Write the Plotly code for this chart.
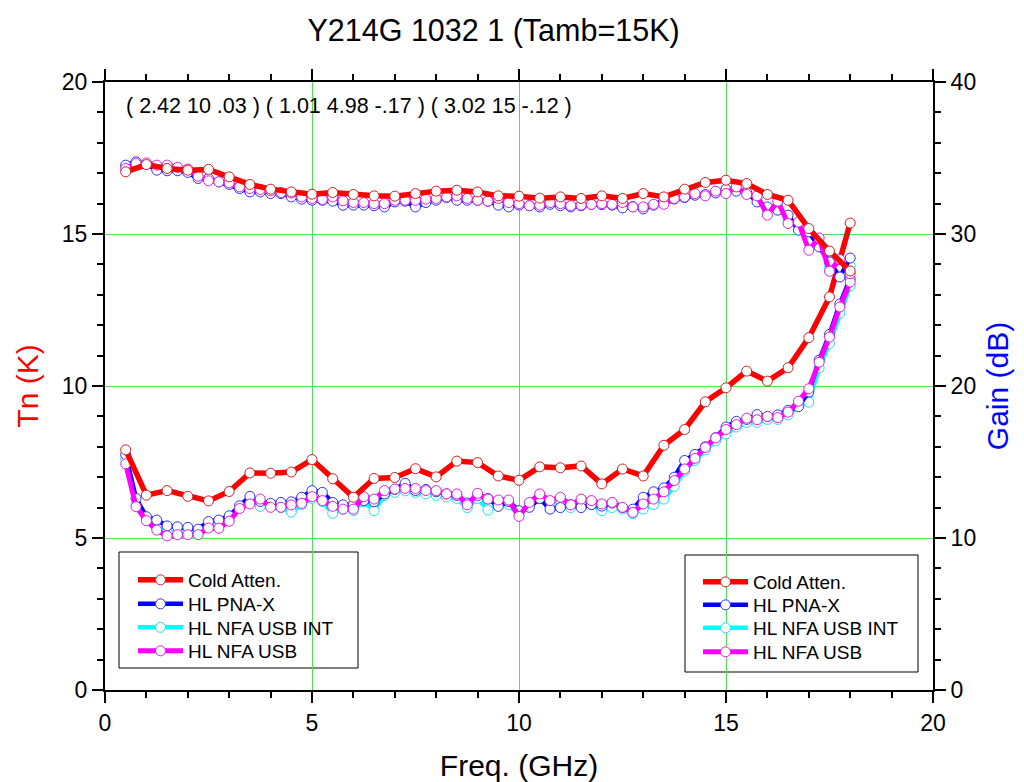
import plotly.graph_objects as go

# ---------------- data ----------------
freq_half = [0.5, 1.0, 1.5, 2.0, 2.5, 3.0, 3.5, 4.0, 4.5, 5.0, 5.5, 6.0,
             6.5, 7.0, 7.5, 8.0, 8.5, 9.0, 9.5, 10.0, 10.5, 11.0, 11.5, 12.0,
             12.5, 13.0, 13.5, 14.0, 14.5, 15.0, 15.5, 16.0, 16.5, 17.0, 17.5, 18.0]

freq_quarter = [0.5, 0.75,
                1.0, 1.25, 1.5, 1.75, 2.0, 2.25, 2.5, 2.75,
                3.0, 3.25, 3.5, 3.75, 4.0, 4.25, 4.5, 4.75,
                5.0, 5.25, 5.5, 5.75, 6.0, 6.25, 6.5, 6.75,
                7.0, 7.25, 7.5, 7.75, 8.0, 8.25, 8.5, 8.75,
                9.0, 9.25, 9.5, 9.75, 10.0, 10.25, 10.5, 10.75,
                11.0, 11.25, 11.5, 11.75, 12.0, 12.25, 12.5, 12.75,
                13.0, 13.25, 13.5, 13.75, 14.0, 14.25, 14.5, 14.75,
                15.0, 15.25, 15.5, 15.75, 16.0, 16.25, 16.5, 16.75,
                17.0, 17.25, 17.5, 17.75, 18.0]

# Noise temperature (K)
tn_cold = [7.90, 6.41, 6.56, 6.37, 6.22, 6.53, 7.14, 7.13, 7.17, 7.58, 6.95, 6.34,
           6.96, 6.99, 7.28, 7.01, 7.53, 7.48, 7.04, 6.90, 7.34, 7.31, 7.37, 6.78,
           7.27, 7.04, 8.05, 8.57, 9.48, 9.94, 10.49, 10.16, 10.60, 11.59, 12.93, 15.36]

tn_pnax = [7.74, 6.30,
           5.70, 5.59, 5.40, 5.37, 5.35, 5.29, 5.54, 5.59,
           5.73, 6.06, 6.37, 6.20, 6.14, 6.17, 6.19, 6.34,
           6.56, 6.50, 6.17, 6.09, 6.09, 6.23, 6.19, 6.45,
           6.60, 6.80, 6.56, 6.60, 6.52, 6.45, 6.40, 6.15,
           6.40, 6.30, 6.04, 6.20, 5.90, 6.01, 6.30, 5.95,
           6.00, 6.10, 6.00, 6.10, 6.05, 6.15, 6.00, 5.95,
           6.34, 6.52, 6.65, 7.00, 7.55, 7.75, 8.00, 8.30,
           8.65, 8.84, 8.90, 9.06, 9.00, 9.05, 9.20, 9.32,
           9.80, 10.85, 11.70, 12.70, 13.53]

tn_nfa_int = [7.60, 6.10,
              5.60, 5.35, 5.20, 5.15, 5.20, 5.20, 5.40, 5.45,
              5.60, 6.00, 6.20, 6.04, 6.05, 6.00, 5.85, 6.10,
              6.30, 6.20, 5.81, 5.95, 5.90, 6.20, 5.90, 6.40,
              6.50, 6.55, 6.50, 6.45, 6.40, 6.35, 6.30, 6.00,
              6.30, 5.92, 6.10, 6.10, 5.75, 6.05, 6.30, 6.05,
              6.25, 6.00, 6.20, 6.10, 5.90, 6.00, 5.95, 5.80,
              5.95, 6.10, 6.28, 6.70, 7.20, 7.55, 7.90, 8.20,
              8.42, 8.65, 8.80, 8.80, 8.90, 8.90, 9.05, 9.35,
              9.47, 10.60, 11.40, 12.40, 13.30]

tn_nfa = [7.44, 6.03,
          5.57, 5.26, 5.07, 5.11, 5.11, 5.11, 5.33, 5.32,
          5.55, 5.97, 6.12, 6.28, 6.01, 6.01, 6.09, 6.14,
          6.36, 6.23, 6.04, 5.95, 5.95, 6.36, 6.28, 6.56,
          6.61, 6.63, 6.63, 6.56, 6.56, 6.45, 6.45, 6.09,
          6.47, 6.28, 6.25, 6.25, 5.71, 6.17, 6.45, 6.23,
          6.34, 6.09, 6.28, 6.23, 6.12, 6.17, 6.01, 5.84,
          6.12, 6.28, 6.52, 6.89, 7.27, 7.62, 7.98, 8.29,
          8.57, 8.73, 8.94, 8.89, 9.00, 8.96, 9.14, 9.50,
          9.91, 10.78, 11.61, 12.60, 13.42]

# Gain (dB)
gain_cold = [34.09, 34.57, 34.31, 34.20, 34.25, 33.76, 33.26, 32.95, 32.77, 32.62, 32.73, 32.60,
             32.51, 32.49, 32.66, 32.82, 32.88, 32.77, 32.51, 32.49, 32.36, 32.44, 32.34, 32.51,
             32.34, 32.66, 32.44, 32.95, 33.39, 33.54, 33.32, 32.60, 32.22, 30.36, 28.88, 27.57]

gain_pnax = [34.53, 34.75,
             34.60, 34.20, 34.16, 34.16, 34.05, 33.65, 33.65, 33.43,
             33.26, 32.99, 32.77, 32.77, 32.66, 32.66, 32.44, 32.29,
             32.22, 32.22, 32.16, 31.89, 31.90, 31.90, 31.86, 31.78,
             32.11, 32.16, 31.78, 32.07, 32.22, 32.40, 32.22, 32.22,
             32.22, 32.16, 31.90, 31.78, 31.90, 31.86, 31.78, 31.95,
             31.86, 31.78, 31.86, 31.95, 31.93, 31.90, 31.72, 31.80,
             31.65, 31.90, 32.20, 32.30, 32.40, 32.55, 32.60, 32.70,
             32.95, 32.82, 32.75, 32.11, 31.78, 31.57, 31.24, 30.25,
             30.14, 29.15, 28.16, 27.17, 28.42]

gain_nfa_int = [34.40, 34.70,
                34.62, 34.35, 34.30, 34.25, 34.15, 33.72, 33.58, 33.43,
                33.30, 33.05, 32.88, 32.85, 32.75, 32.70, 32.55, 32.36,
                32.28, 32.25, 32.30, 32.05, 32.00, 31.98, 31.93, 31.90,
                32.16, 32.19, 32.00, 32.18, 32.28, 32.42, 32.36, 32.28,
                32.22, 32.16, 32.12, 31.92, 31.95, 31.86, 31.84, 32.01,
                31.93, 31.82, 31.88, 31.95, 31.96, 31.92, 31.90, 31.79,
                31.72, 31.92, 32.08, 32.32, 32.42, 32.60, 32.55, 32.76,
                32.80, 32.96, 32.68, 32.31, 31.51, 31.86, 30.96, 30.52,
                29.54, 29.45, 27.85, 27.75, 27.90]

gain_nfa = [34.31, 34.64,
            34.68, 34.53, 34.53, 34.38, 34.27, 33.80, 33.50, 33.43,
            33.37, 33.10, 32.99, 32.93, 32.84, 32.73, 32.70, 32.44,
            32.34, 32.27, 32.44, 32.18, 32.07, 32.07, 32.00, 32.00,
            32.22, 32.22, 32.22, 32.29, 32.34, 32.44, 32.51, 32.34,
            32.22, 32.16, 32.34, 32.07, 32.00, 31.86, 31.90, 32.07,
            32.00, 31.86, 31.90, 31.95, 32.00, 31.95, 32.07, 31.78,
            31.78, 31.95, 31.95, 32.34, 32.44, 32.66, 32.51, 32.82,
            32.66, 33.10, 32.60, 32.51, 31.24, 32.16, 30.69, 30.79,
            28.93, 29.74, 27.55, 28.32, 27.39]

series_names = ["Cold Atten.", "HL PNA-X", "HL NFA USB INT", "HL NFA USB"]
fit_text = "( 2.42 10 .03 ) ( 1.01 4.98 -.17 ) ( 3.02 15 -.12 )"
title_text = "Y214G 1032 1 (Tamb=15K)"

# ---------------- layout helpers ----------------
W, H = 1024, 782
PL, PR, PT, PB = 105, 933, 82, 690   # plot area in pixels


def px_x(p):
    return (p - PL) / (PR - PL)


def px_y(p):
    return (PB - p) / (PB - PT)


FONT = "Liberation Sans, Arial, sans-serif"
GRID = "#50e050"

styles = {
    "Cold Atten.": dict(color="#ff0000", mline="#d02020", width=5.5),
    "HL PNA-X": dict(color="#0000ff", mline="#3030ff", width=4.5),
    "HL NFA USB INT": dict(color="#00ffff", mline="#20e0f0", width=4.5),
    "HL NFA USB": dict(color="#ff00ff", mline="#e020e0", width=5),
}

tn_data = {
    "Cold Atten.": (freq_half, tn_cold),
    "HL PNA-X": (freq_quarter, tn_pnax),
    "HL NFA USB INT": (freq_quarter, tn_nfa_int),
    "HL NFA USB": (freq_quarter, tn_nfa),
}
gain_data = {
    "Cold Atten.": (freq_half, gain_cold),
    "HL PNA-X": (freq_quarter, gain_pnax),
    "HL NFA USB INT": (freq_quarter, gain_nfa_int),
    "HL NFA USB": (freq_quarter, gain_nfa),
}

draw_order = ["HL NFA USB INT", "HL PNA-X", "HL NFA USB", "Cold Atten."]

# legend entry positions (text left x, row centre y) for each block
legend_blocks = {
    "y": dict(text_x=188, rows=[580, 604, 627.5, 651]),
    "y2": dict(text_x=753, rows=[582, 605, 628, 652]),
}

fig = go.Figure()
legends = {}
leg_idx = 1
for axis, data in (("y", tn_data), ("y2", gain_data)):
    blk = legend_blocks[axis]
    for name in draw_order:
        st = styles[name]
        xs, ys = data[name]
        row = series_names.index(name)
        key = "legend" if leg_idx == 1 else f"legend{leg_idx}"
        legends[key] = dict(
            x=px_x(blk["text_x"] - 55), y=px_y(blk["rows"][row]),
            xanchor="left", yanchor="middle",
            bgcolor="rgba(0,0,0,0)", borderwidth=0, itemwidth=45,
            font=dict(family=FONT, size=19, color="black"),
        )
        fig.add_trace(go.Scatter(
            x=xs, y=ys, name=name, mode="lines+markers", yaxis=axis,
            legend=key,
            line=dict(color=st["color"], width=st["width"]),
            marker=dict(symbol="circle", size=10, color="white",
                        line=dict(color=st["mline"], width=1)),
            hoverinfo="skip",
        ))
        leg_idx += 1

axis_common = dict(
    showline=True, linecolor="black", linewidth=2,
    ticks="outside", tickcolor="black", tickwidth=2, ticklen=11,
    tickfont=dict(family=FONT, size=23, color="black"),
    zeroline=False,
)

fig.update_layout(
    template="none",
    width=W, height=H,
    margin=dict(l=PL, r=W - PR, t=PT, b=H - PB, pad=0),
    paper_bgcolor="white", plot_bgcolor="white",
    font=dict(family=FONT, color="black"),
    title=dict(text=title_text, x=0.482, xanchor="center", y=1 - 30 / H, yanchor="middle",
               font=dict(family=FONT, size=30.5, color="black")),
    xaxis=dict(range=[0, 20], tick0=0, dtick=5, mirror="ticks",
               showgrid=True, gridcolor=GRID, gridwidth=1,
               minor=dict(dtick=1, ticks="outside", ticklen=6, tickwidth=1.5,
                          tickcolor="black", showgrid=False),
               title=dict(text="Freq. (GHz)", font=dict(family=FONT, size=30, color="black"),
                          standoff=22),
               **axis_common),
    yaxis=dict(range=[0, 20], tick0=0, dtick=5, mirror=True,
               showgrid=True, gridcolor=GRID, gridwidth=1,
               minor=dict(dtick=1, ticks="outside", ticklen=6, tickwidth=1.5,
                          tickcolor="black", showgrid=False),
               title=dict(text="Tn (K)", font=dict(family=FONT, size=30, color="#ff0000"),
                          standoff=14),
               **axis_common),
    yaxis2=dict(range=[0, 40], tick0=0, dtick=10, overlaying="y", side="right",
                showgrid=False, gridcolor=GRID,
                minor=dict(dtick=2, ticks="outside", ticklen=6, tickwidth=1.5,
                           tickcolor="black", showgrid=False),
                title=dict(text="Gain (dB)", font=dict(family=FONT, size=30, color="#0000ff"),
                           standoff=12),
                **axis_common),
    showlegend=True,
    shapes=[
        dict(type="rect", xref="paper", yref="paper", layer="between",
             x0=px_x(119), x1=px_x(358), y0=px_y(668), y1=px_y(552),
             line=dict(color="black", width=1), fillcolor="white"),
        dict(type="rect", xref="paper", yref="paper", layer="between",
             x0=px_x(685), x1=px_x(918), y0=px_y(672), y1=px_y(555),
             line=dict(color="black", width=1), fillcolor="white"),
    ],
    annotations=[
        dict(text=fit_text, xref="paper", yref="paper", x=px_x(124), y=px_y(106),
             xanchor="left", yanchor="middle", showarrow=False,
             font=dict(family=FONT, size=21.5, color="black")),
    ],
    **legends,
)

fig.write_html("out.html")
